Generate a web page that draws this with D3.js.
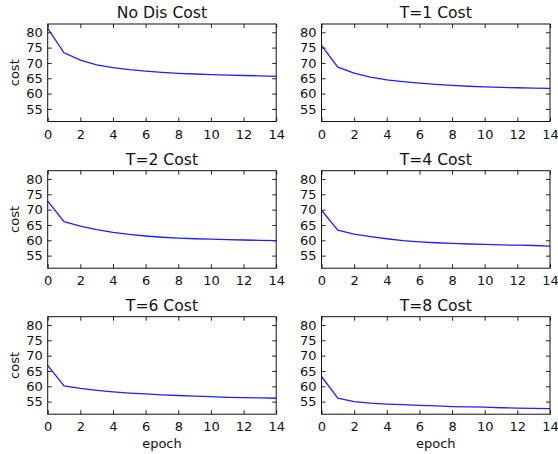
<!DOCTYPE html>
<html>
<head>
<meta charset="utf-8">
<script src="https://cdn.jsdelivr.net/npm/d3@7"></script>
<style>
  body { margin: 0; background: #fff; }
  svg { font-family: "DejaVu Sans", sans-serif; }
</style>
</head>
<body>
<div class="chart"></div>
<script>
// data
var epochs = d3.range(0, 15);
var titles = ["No Dis Cost", "T=1 Cost", "T=2 Cost", "T=4 Cost", "T=6 Cost", "T=8 Cost"];
var noDisCost = [81.3, 73.3, 70.9, 69.4, 68.5, 67.8, 67.3, 66.9, 66.6, 66.4, 66.2, 66.0, 65.9, 65.8, 65.6];
var t1Cost = [75.7, 68.6, 66.7, 65.4, 64.5, 63.9, 63.4, 63.0, 62.7, 62.4, 62.2, 62.0, 61.9, 61.8, 61.7];
var t2Cost = [72.8, 66.1, 64.6, 63.5, 62.6, 61.9, 61.4, 61.0, 60.7, 60.5, 60.4, 60.2, 60.1, 60.0, 59.9];
var t4Cost = [69.8, 63.3, 62.0, 61.2, 60.5, 59.9, 59.5, 59.2, 59.0, 58.8, 58.7, 58.5, 58.4, 58.3, 58.1];
var t6Cost = [66.8, 60.1, 59.3, 58.7, 58.2, 57.8, 57.5, 57.2, 57.0, 56.8, 56.6, 56.4, 56.3, 56.2, 56.1];
var t8Cost = [63.2, 56.1, 55.0, 54.5, 54.2, 54.0, 53.8, 53.6, 53.4, 53.3, 53.2, 53.0, 52.9, 52.8, 52.7];
var series = [noDisCost, t1Cost, t2Cost, t4Cost, t6Cost, t8Cost];
var xTicks = [0, 2, 4, 6, 8, 10, 12, 14];
var yTicks = [55, 60, 65, 70, 75, 80];

var svgWidth = 558;
var svgHeight = 454;

// panel layout
var colLeft = [47.7, 321.5];
var rowTop = [24, 170.7, 316.7];
var plotW = 228.5;
var plotH = 97.5;

var svg = d3.select(".chart")
    .append("svg")
    .attr("width", svgWidth)
    .attr("height", svgHeight);

var xScale = d3.scaleLinear().domain([0, 14]).range([0, plotW]);
var yScale = d3.scaleLinear().domain([50.9, 82.7]).range([plotH, 0]);

var line = d3.line()
    .x((d, i) => xScale(epochs[i]))
    .y(d => yScale(d));

series.forEach(function(values, k) {
    var col = k % 2;
    var row = Math.floor(k / 2);
    var g = svg.append("g")
        .attr("transform", `translate(${colLeft[col]}, ${rowTop[row]})`);

    // bottom axis with labels, ticks pointing in
    var bottom = g.append("g")
        .attr("transform", `translate(0, ${plotH})`)
        .call(d3.axisBottom(xScale).tickValues(xTicks).tickSizeInner(-4).tickSizeOuter(0).tickPadding(8));
    // left axis with labels
    var left = g.append("g")
        .call(d3.axisLeft(yScale).tickValues(yTicks).tickSizeInner(-4).tickSizeOuter(0).tickPadding(5));
    // top and right ticks only
    var top = g.append("g")
        .call(d3.axisTop(xScale).tickValues(xTicks).tickSizeInner(-4).tickSizeOuter(0).tickFormat(""));
    var right = g.append("g")
        .attr("transform", `translate(${plotW}, 0)`)
        .call(d3.axisRight(yScale).tickValues(yTicks).tickSizeInner(-4).tickSizeOuter(0).tickFormat(""));

    [bottom, left, top, right].forEach(function(a) {
        a.select(".domain").remove();
        a.selectAll("line").attr("stroke", "#222");
        a.selectAll("text")
            .attr("fill", "#111")
            .style("font-size", "13px")
            .style("font-family", "DejaVu Sans, sans-serif");
    });

    g.append("path")
        .datum(values)
        .attr("fill", "none")
        .attr("stroke", "#2020ff")
        .attr("stroke-width", 1.3)
        .attr("d", line);

    // frame
    g.append("rect")
        .attr("width", plotW)
        .attr("height", plotH)
        .attr("fill", "none")
        .attr("stroke", "#111")
        .attr("stroke-width", 1);

    g.append("text")
        .attr("x", plotW / 2)
        .attr("y", -6)
        .attr("text-anchor", "middle")
        .style("font-size", "15.6px")
        .attr("fill", "#111")
        .text(titles[k]);

    if (col === 0) {
        g.append("text")
            .attr("transform", `translate(${-29}, ${plotH / 2}) rotate(-90)`)
            .attr("text-anchor", "middle")
            .style("font-size", "13px")
            .attr("fill", "#111")
            .text("cost");
    }
    if (row === 2) {
        g.append("text")
            .attr("x", plotW / 2)
            .attr("y", plotH + 34)
            .attr("text-anchor", "middle")
            .style("font-size", "13px")
            .attr("fill", "#111")
            .text("epoch");
    }
});
</script>
</body>
</html>
